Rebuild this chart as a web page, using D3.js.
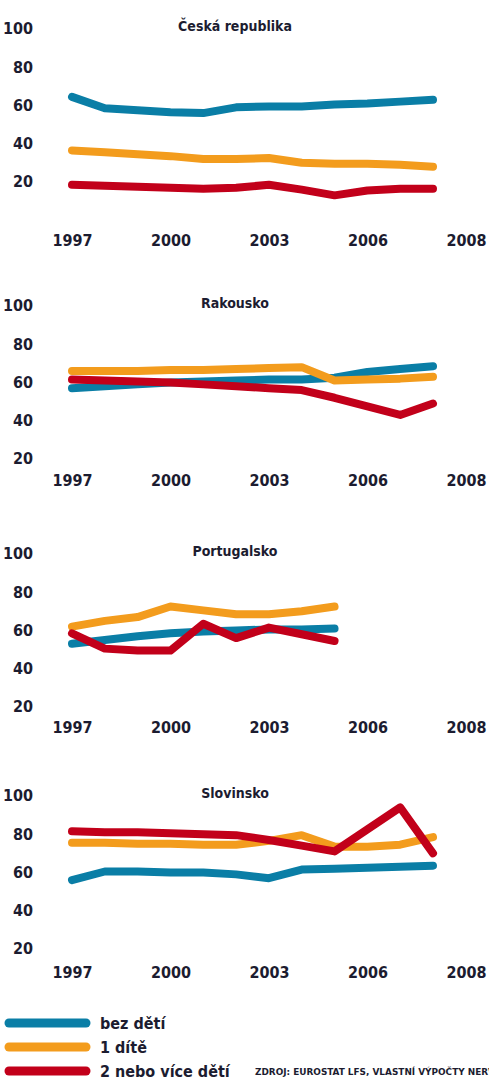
<!DOCTYPE html>
<html>
<head>
<meta charset="utf-8">
<script src="https://cdn.jsdelivr.net/npm/d3@7"></script>
<style>
  body { margin: 0; background: #fff; }
  svg text { font-family: "DejaVu Sans Condensed", "DejaVu Sans", sans-serif; font-weight: bold; fill: #1c1c30; }
</style>
</head>
<body>
<svg id="chart"></svg>
<script>
/* Employment rate of mothers by number of children, 1997-2008 */

const width = 489, height = 1081;

// ---- data ----
const years = d3.range(1997, 2009);                 // 1997 .. 2008
const yearsPT = d3.range(1997, 2006);               // Portugal only to 2005
const yearLabels = ["1997", "2000", "2003", "2006", "2008"];
const yTicks = [20, 40, 60, 80, 100];
const seriesNames = ["bez dětí", "1 dítě", "2 nebo více dětí"];
const countries = ["Česká republika", "Rakousko", "Portugalsko", "Slovinsko"];

const czNone  = [64, 58, 57, 56, 55.5, 58.5, 59, 59, 60, 60.5, 61.5, 62.5];
const czOne   = [36, 35, 34, 33, 31.5, 31.5, 32, 29.5, 29, 29, 28.5, 27.5];
const czTwo   = [18, 17.5, 17, 16.5, 16, 16.5, 18, 15.5, 12.5, 15, 16, 16];

const atNone  = [56.5, 57.5, 58.5, 59.5, 60, 60.5, 61, 61, 62, 65, 66.5, 68];
const atOne   = [65.5, 65.5, 65.5, 66, 66, 66.5, 67, 67.5, 60.5, 61, 61.5, 62.5];
const atTwo   = [61, 60.5, 60, 59.5, 58.5, 57.5, 56.5, 55.5, 51.5, 47, 42.5, 48.5];

const ptNone  = [52.5, 54.5, 56.5, 58, 59, 59.5, 60, 60, 60.5];
const ptOne   = [61.5, 64.5, 66.5, 72, 70, 68, 68, 69.5, 72];
const ptTwo   = [58, 50, 49, 49, 63, 55.5, 61, 57.5, 54];

const siNone  = [55.5, 60, 60, 59.5, 59.5, 58.5, 56.5, 61, 61.5, 62, 62.5, 63];
const siOne   = [75, 75, 74.5, 74.5, 74, 74, 76, 79, 73, 73, 74, 78];
const siTwo   = [81, 80.5, 80.5, 80, 79.5, 79, 76.5, 73.5, 70.5, 82, 93.5, 69.5];

// ---- layout ----
const colors = ["#0a7ea6", "#f39c1d", "#c2001a"];
const panels = [
  { top: 28,  xAxisY: 240, years: years,   series: [czNone, czOne, czTwo] },
  { top: 305, xAxisY: 480, years: years,   series: [atNone, atOne, atTwo] },
  { top: 553, xAxisY: 727, years: yearsPT, series: [ptNone, ptOne, ptTwo] },
  { top: 795, xAxisY: 972, years: years,   series: [siNone, siOne, siTwo] }
];

const svg = d3.select("#chart")
  .attr("width", width)
  .attr("height", height);

// data x positions, and evenly spaced year labels underneath
const x = d3.scaleLinear().domain([1997, 2008]).range([72, 433]);
const xLab = d3.scalePoint().domain(yearLabels).range([72, 466]);

panels.forEach((p, i) => {
  const g = svg.append("g");
  const y = d3.scaleLinear().domain([20, 100]).range([p.top + 153, p.top]);

  // y labels
  const yAxis = d3.axisLeft(y).tickValues(yTicks).tickSize(0).tickPadding(0);
  const ya = g.append("g").attr("transform", "translate(33,0)").call(yAxis);
  ya.select(".domain").remove();
  ya.selectAll("text")
    .attr("dy", "0.36em")
    .style("font-size", "16px")
    .attr("fill", null);

  // x labels
  const xAxis = d3.axisBottom(xLab).tickSize(0).tickPadding(0);
  const xa = g.append("g").attr("transform", `translate(0,${p.xAxisY})`).call(xAxis);
  xa.select(".domain").remove();
  xa.selectAll("text")
    .attr("dy", "0.36em")
    .style("font-size", "16px")
    .attr("fill", null);

  // title
  g.append("text")
    .attr("x", 235)
    .attr("y", p.top - 2)
    .attr("dy", "0.36em")
    .attr("text-anchor", "middle")
    .style("font-size", "14px")
    .text(countries[i]);

  // lines
  const line = d3.line()
    .x((d, j) => x(p.years[j]))
    .y(d => y(d));
  p.series.forEach((s, k) => {
    g.append("path")
      .datum(s)
      .attr("d", line)
      .attr("fill", "none")
      .attr("stroke", colors[k])
      .attr("stroke-width", 8)
      .attr("stroke-linejoin", "round")
      .attr("stroke-linecap", "round");
  });
});

// ---- legend ----
const legendY = [1023, 1047, 1071];
const lg = svg.append("g");
seriesNames.forEach((name, k) => {
  lg.append("line")
    .attr("x1", 9).attr("x2", 86)
    .attr("y1", legendY[k]).attr("y2", legendY[k])
    .attr("stroke", colors[k])
    .attr("stroke-width", 9)
    .attr("stroke-linecap", "round");
  lg.append("text")
    .attr("x", 100)
    .attr("y", legendY[k])
    .attr("dy", "0.36em")
    .style("font-size", "16px")
    .text(name);
});

// source note, runs off the right edge like the original
svg.append("text")
  .attr("x", 255)
  .attr("y", 1072)
  .attr("dy", "0.36em")
  .style("font-size", "9px")
  .attr("textLength", 240)
  .attr("lengthAdjust", "spacingAndGlyphs")
  .text("ZDROJ: EUROSTAT LFS, VLASTNÍ VÝPOČTY NERV");
</script>
</body>
</html>
